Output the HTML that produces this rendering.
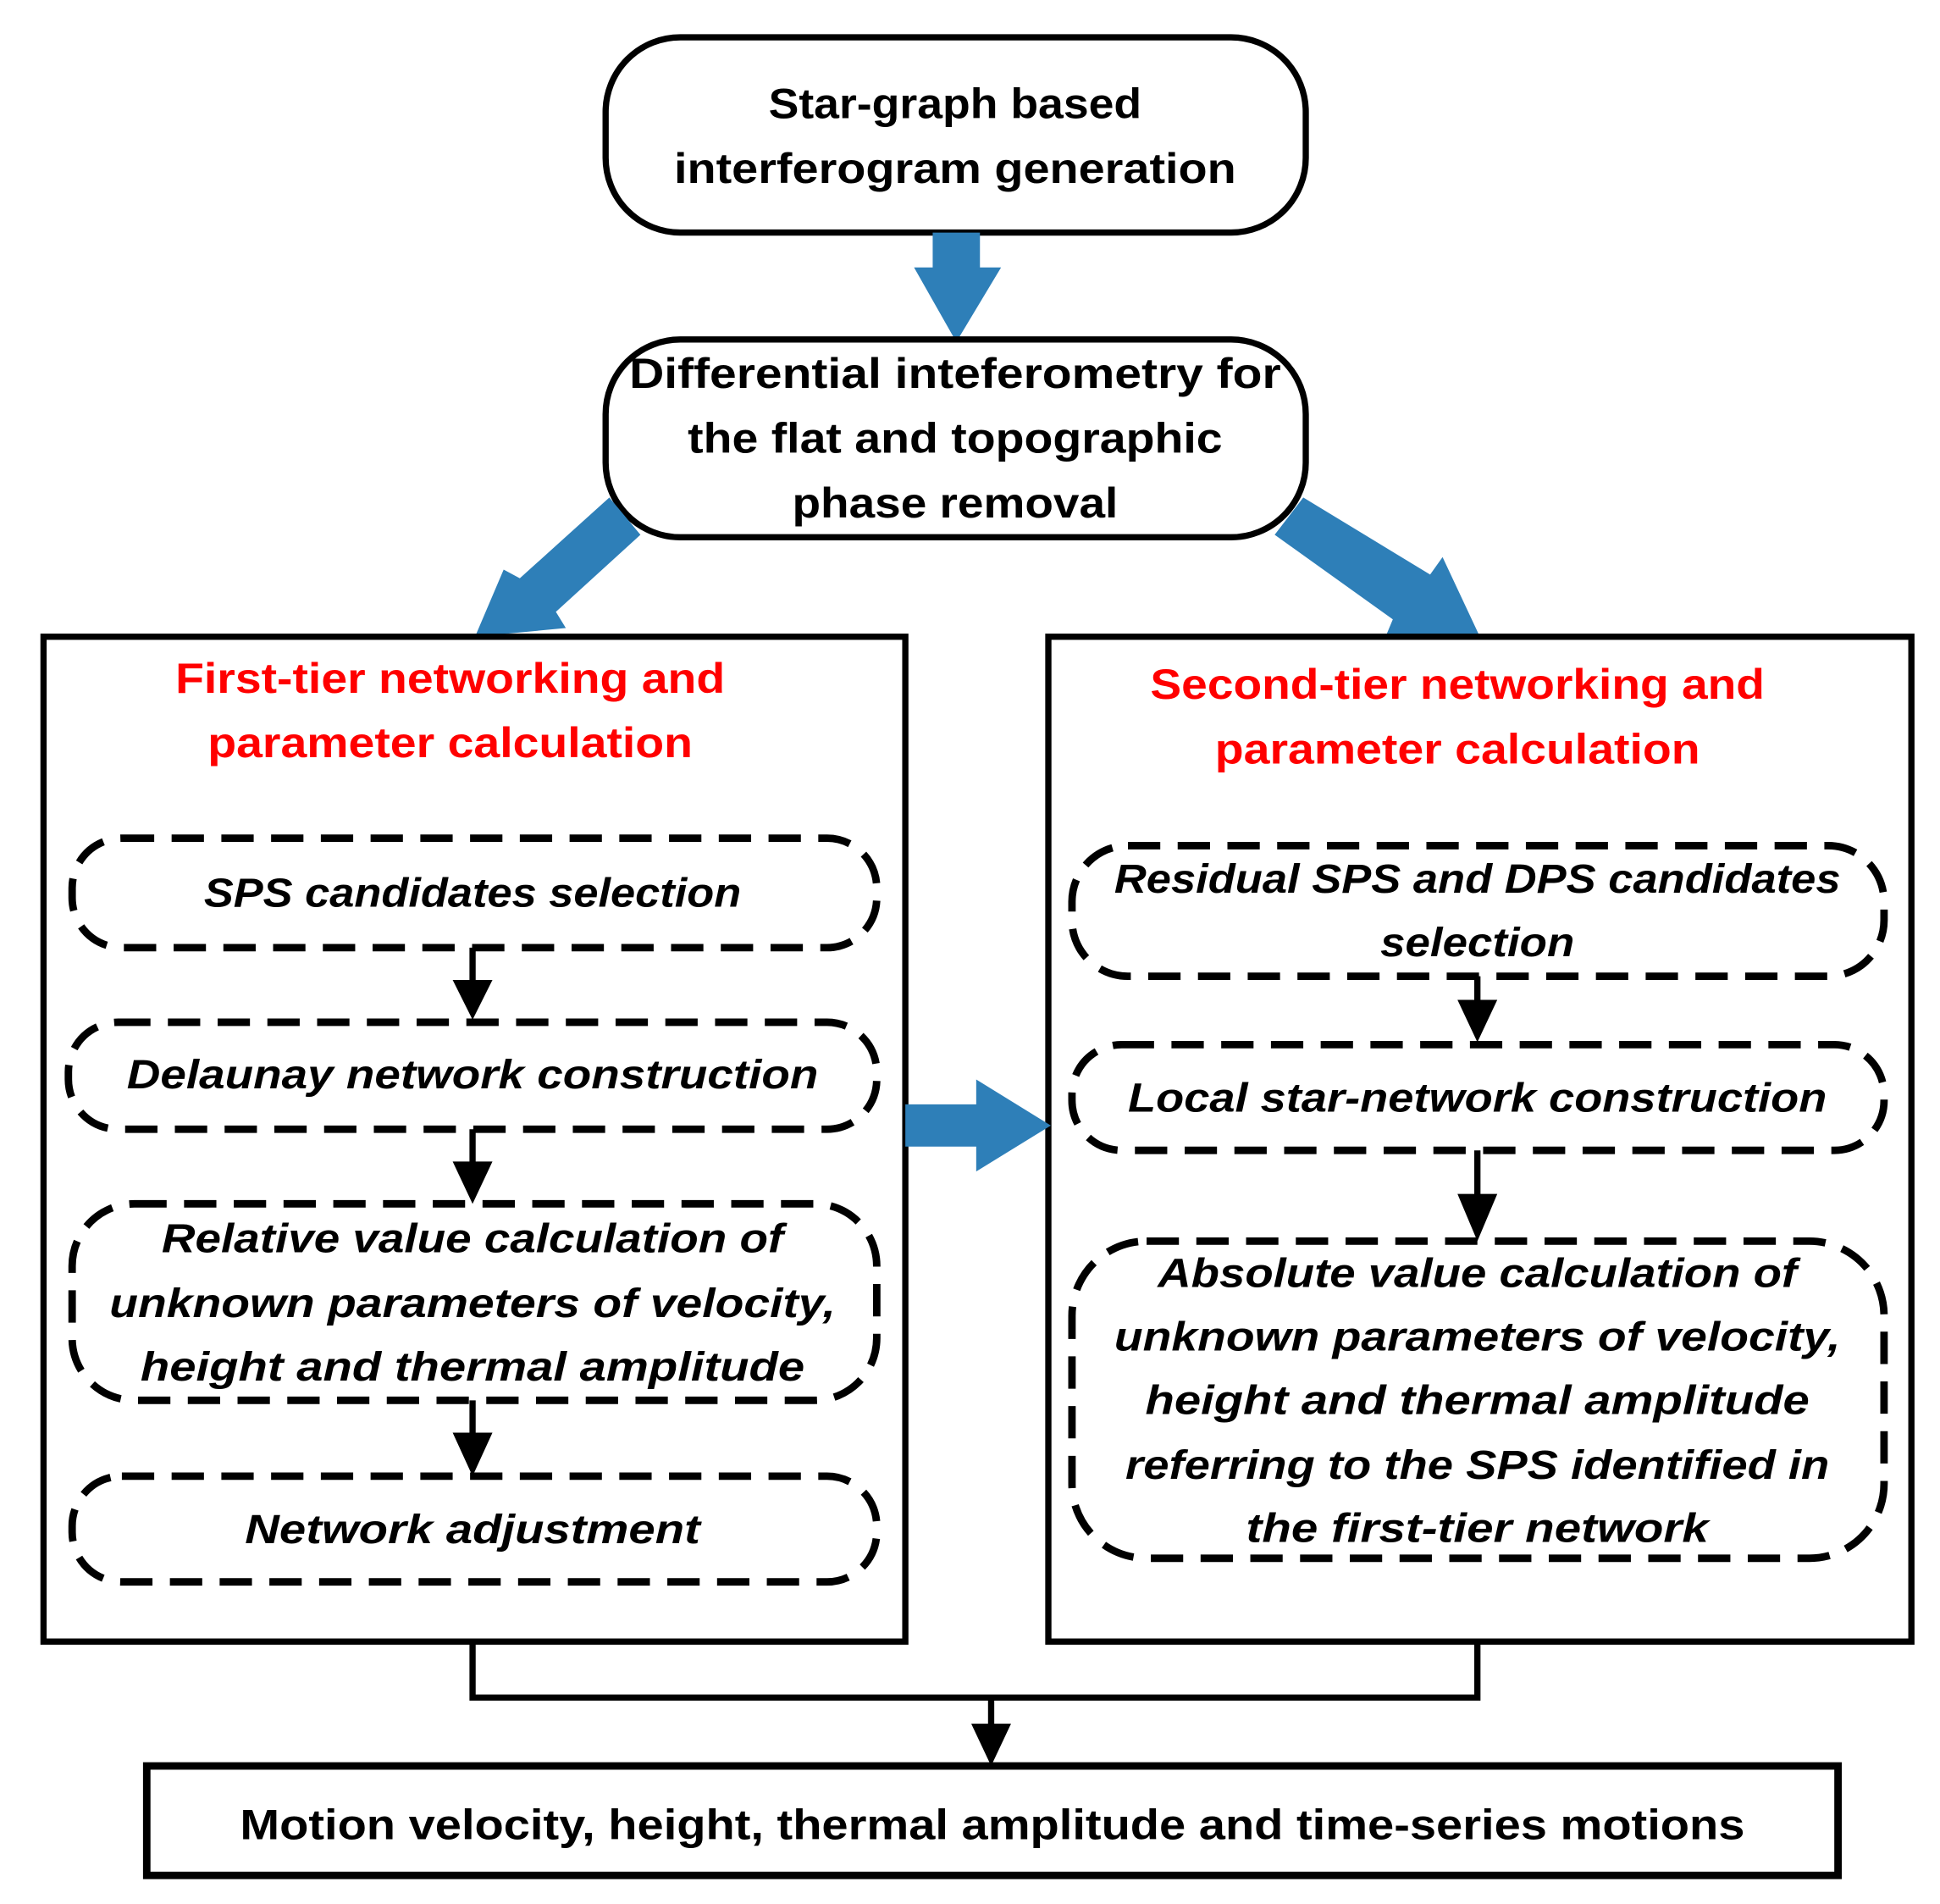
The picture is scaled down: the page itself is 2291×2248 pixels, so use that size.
<!DOCTYPE html>
<html><head><meta charset="utf-8"><style>html,body{margin:0;padding:0;background:#fff}svg{display:block}</style></head>
<body>
<svg width="2291" height="2248" viewBox="0 0 1560 1531" preserveAspectRatio="none" xmlns="http://www.w3.org/2000/svg" font-family="Liberation Sans, sans-serif" font-weight="bold">
<defs>
<marker id="ah" markerWidth="6" markerHeight="6" refX="5" refY="3" orient="auto" markerUnits="strokeWidth"><path d="M0,0 L6,3 L0,6 z" fill="#000"/></marker>
</defs>
<!-- top boxes -->
<rect x="487" y="30" width="563" height="157" rx="60" fill="#fff" stroke="#000" stroke-width="5"/>
<g font-size="34" text-anchor="middle" fill="#000">
<text x="768" y="95" textLength="300" lengthAdjust="spacingAndGlyphs">Star-graph based</text>
<text x="768" y="147" textLength="452" lengthAdjust="spacingAndGlyphs">interferogram generation</text>
</g>
<polygon points="750,187 788,187 788,215 805,215 769,275 735,215 750,215" fill="#2e7fb8"/>
<rect x="487" y="273" width="563" height="159" rx="60" fill="#fff" stroke="#000" stroke-width="5"/>
<g font-size="34" text-anchor="middle" fill="#000">
<text x="768" y="312" textLength="524" lengthAdjust="spacingAndGlyphs">Differential inteferometry for</text>
<text x="768" y="364" textLength="430" lengthAdjust="spacingAndGlyphs">the flat and topographic</text>
<text x="768" y="416" textLength="262" lengthAdjust="spacingAndGlyphs">phase removal</text>
</g>
<!-- diagonal blue arrows -->
<polygon points="490,400 515,430 447,492 455,505 382,512 405,458 418,465" fill="#2e7fb8"/>
<polygon points="1048,400 1025,430 1120,498 1115,510 1190,512 1160,448 1150,462" fill="#2e7fb8"/>
<!-- panels -->
<rect x="35" y="512" width="693" height="808" fill="none" stroke="#000" stroke-width="5"/>
<rect x="843" y="512" width="694" height="808" fill="none" stroke="#000" stroke-width="5"/>
<g font-size="34" text-anchor="middle" fill="#ff0000">
<text x="362" y="557" textLength="442" lengthAdjust="spacingAndGlyphs">First-tier networking and</text>
<text x="362" y="609" textLength="390" lengthAdjust="spacingAndGlyphs">parameter calculation</text>
<text x="1172" y="562" textLength="494" lengthAdjust="spacingAndGlyphs">Second-tier networking and</text>
<text x="1172" y="614" textLength="390" lengthAdjust="spacingAndGlyphs">parameter calculation</text>
</g>
<!-- dashed boxes -->
<g fill="none" stroke="#000" stroke-width="6" stroke-dasharray="26,14">
<rect x="58" y="674" width="647" height="88" rx="40"/>
<rect x="55" y="822" width="650" height="86" rx="40"/>
<rect x="58" y="968" width="647" height="158" rx="50"/>
<rect x="58" y="1187" width="647" height="85" rx="40"/>
<rect x="862" y="680" width="653" height="105" rx="45"/>
<rect x="862" y="840" width="653" height="85" rx="40"/>
<rect x="862" y="998" width="653" height="255" rx="60"/>
</g>
<g font-size="33" text-anchor="middle" font-style="italic" fill="#000">
<text x="380" y="729" textLength="432" lengthAdjust="spacingAndGlyphs">SPS candidates selection</text>
<text x="380" y="875" textLength="556" lengthAdjust="spacingAndGlyphs">Delaunay network construction</text>
<text x="380" y="1007" textLength="500" lengthAdjust="spacingAndGlyphs">Relative value calculation of</text>
<text x="380" y="1059" textLength="584" lengthAdjust="spacingAndGlyphs">unknown parameters of velocity,</text>
<text x="380" y="1110" textLength="534" lengthAdjust="spacingAndGlyphs">height and thermal amplitude</text>
<text x="380" y="1241" textLength="366" lengthAdjust="spacingAndGlyphs">Network adjustment</text>
<text x="1188" y="718" textLength="584" lengthAdjust="spacingAndGlyphs">Residual SPS and DPS candidates</text>
<text x="1188" y="769" textLength="156" lengthAdjust="spacingAndGlyphs">selection</text>
<text x="1188" y="894" textLength="562" lengthAdjust="spacingAndGlyphs">Local star-network construction</text>
<text x="1188" y="1035" textLength="514" lengthAdjust="spacingAndGlyphs">Absolute value calculation of</text>
<text x="1188" y="1086" textLength="584" lengthAdjust="spacingAndGlyphs">unknown parameters of velocity,</text>
<text x="1188" y="1137" textLength="534" lengthAdjust="spacingAndGlyphs">height and thermal amplitude</text>
<text x="1188" y="1189" textLength="566" lengthAdjust="spacingAndGlyphs">referring to the SPS identified in</text>
<text x="1188" y="1240" textLength="372" lengthAdjust="spacingAndGlyphs">the first-tier network</text>
</g>
<!-- black arrows -->
<g stroke="#000" stroke-width="5" fill="#000">
<line x1="380" y1="762" x2="380" y2="790"/><polygon points="364,788 396,788 380,820" stroke="none"/>
<line x1="380" y1="908" x2="380" y2="936"/><polygon points="364,934 396,934 380,968" stroke="none"/>
<line x1="380" y1="1126" x2="380" y2="1154"/><polygon points="364,1152 396,1152 380,1187" stroke="none"/>
<line x1="1188" y1="785" x2="1188" y2="806"/><polygon points="1172,804 1204,804 1188,838" stroke="none"/>
<line x1="1188" y1="925" x2="1188" y2="962"/><polygon points="1172,960 1204,960 1188,998" stroke="none"/>
<polyline points="380,1320 380,1365 1188,1365 1188,1320" fill="none"/>
<line x1="797" y1="1365" x2="797" y2="1388"/><polygon points="781,1386 813,1386 797,1420" stroke="none"/>
</g>
<!-- horizontal blue arrow -->
<polygon points="728,888 785,888 785,868 845,905 785,942 785,922 728,922" fill="#2e7fb8"/>
<!-- bottom box -->
<rect x="118" y="1420" width="1360" height="88" fill="#fff" stroke="#000" stroke-width="6"/>
<text x="798" y="1479" font-size="34" text-anchor="middle" fill="#000" textLength="1210" lengthAdjust="spacingAndGlyphs">Motion velocity, height, thermal amplitude and time-series motions</text>
</svg>
</body></html>
